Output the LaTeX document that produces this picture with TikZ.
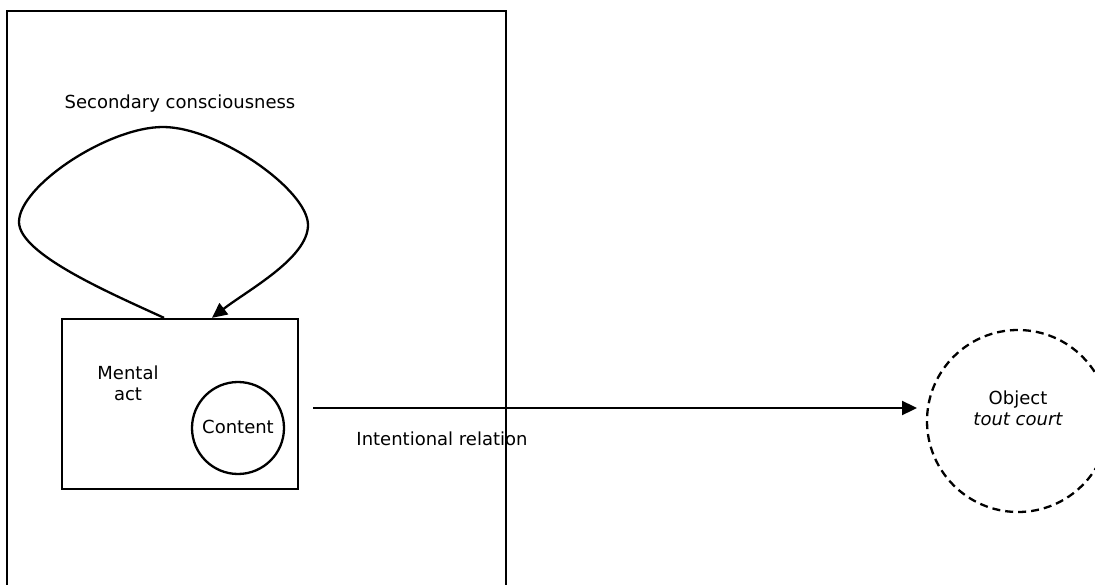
\documentclass[tikz,border=0pt]{standalone}
\usepackage{fontspec}
\setmainfont{DejaVu Sans}
\usetikzlibrary{arrows.meta}
\tikzset{
  line/.style={line width=2.3pt, draw=black},
  lbl/.style={font=\fontsize{18}{21}\selectfont, inner sep=0pt, align=center},
  tip/.style={-{Triangle[length=15pt,width=14pt]}},
}
\begin{document}
\begin{tikzpicture}[x=1pt,y=-1pt]
\useasboundingbox (0,0) rectangle (1095,585);
\clip (0,0) rectangle (1095,585);
% outer box (open at the bottom edge of the picture)
\draw[line] (7,600) -- (7,11) -- (506,11) -- (506,600);
% mental act box
\node[line, draw, minimum width=236pt, minimum height=170pt, inner sep=0pt] (act) at (180,404) {};
\node[lbl] (actlbl) at (128,383) {Mental\\act};
\node[line, draw, circle, minimum size=92pt, inner sep=0pt] (content) at (238,428) {};
\node[lbl] (contentlbl) at (238,427) {Content};
% secondary consciousness loop
\node[lbl] (sec) at (180,104) {Secondary consciousness};
\coordinate (ls) at ([xshift=-16pt]act.north);
\coordinate (le) at ([xshift=32pt]act.north);
\draw[line, tip] (ls) .. controls (110,293) and (19,254) .. (19,222)
  .. controls (19,186) and (108,127) .. (163,127)
  .. controls (218,127) and (308,190) .. (308,225)
  .. controls (308,258) and (248,290) .. (le);
% object
\node[line, draw, circle, dashed, dash pattern=on 8pt off 5pt, minimum size=182pt, inner sep=0pt] (obj) at (1018,421) {};
\node[lbl] (objlbl) at (1018,408) {Object\\\itshape tout court};
% intentional relation
\coordinate (a1) at (313,408);
\coordinate (a2) at (917,408);
\draw[line, tip] (a1) -- (a2);
\node[lbl] (intl) at (442,439) {Intentional relation};
\end{tikzpicture}
\end{document}
